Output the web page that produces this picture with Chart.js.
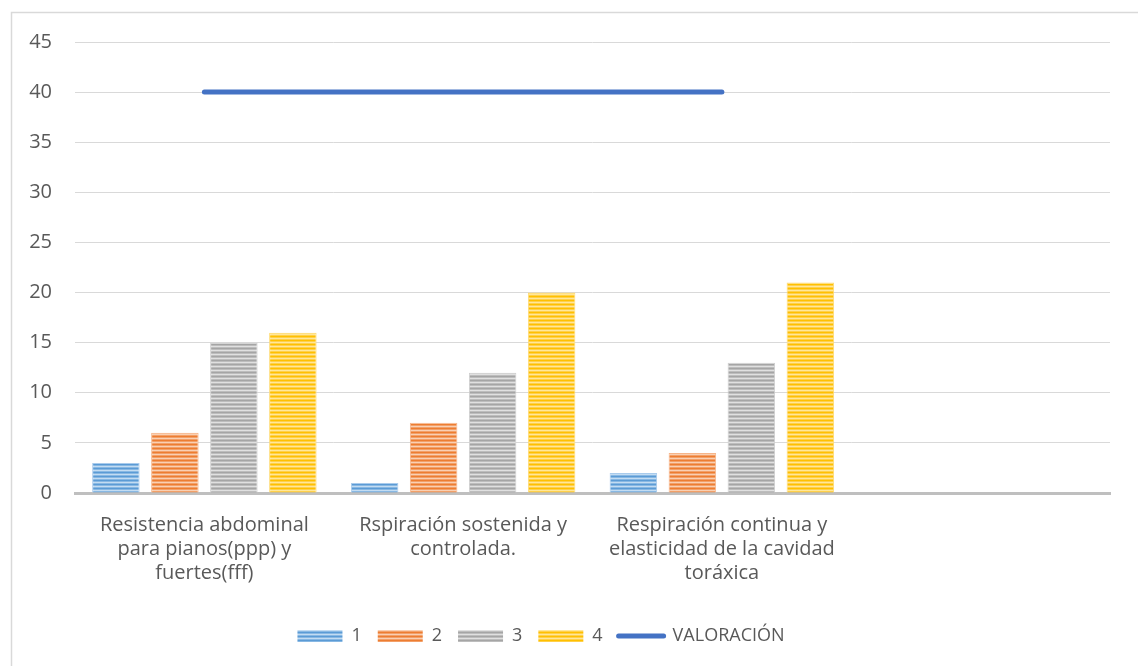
<!DOCTYPE html>
<html>
<head>
<meta charset="utf-8">
<script src="https://cdn.jsdelivr.net/npm/chart.js@4.4.1/dist/chart.umd.min.js"></script>
<style>
  html,body{margin:0;padding:0;background:#fff;}
  #wrap{width:1138px;height:666px;position:relative;}
</style>
</head>
<body>
<div id="wrap"><canvas id="c" width="1138" height="666"></canvas></div>
<script>
const categories = [
  ["Resistencia abdominal", "para pianos(ppp) y", "fuertes(fff)"],
  ["Rspiración sostenida y", "controlada."],
  ["Respiración continua y", "elasticidad de la cavidad", "toráxica"],
  [""]
];
const series1 = [3, 1, 2, null];
const series2 = [6, 7, 4, null];
const series3 = [15, 12, 13, null];
const series4 = [16, 20, 21, null];
const valoracion = [40, 40, 40, null];
const seriesNames = ["1", "2", "3", "4", "VALORACIÓN"];
const yTicks = [0, 5, 10, 15, 20, 25, 30, 35, 40, 45];

function stripe(base, mid, light) {
  const c = document.createElement('canvas');
  c.width = 4; c.height = 4;
  const x = c.getContext('2d');
  x.fillStyle = base; x.fillRect(0, 0, 4, 4);
  x.fillStyle = mid; x.fillRect(0, 1, 4, 1);
  x.fillStyle = light; x.fillRect(0, 2, 4, 1);
  x.fillStyle = mid; x.fillRect(0, 3, 4, 1);
  return x.createPattern(c, 'repeat');
}
const ctx = document.getElementById('c').getContext('2d');
const pBlue = stripe('#5b9bd5', '#88b8e3', '#c3dcf2');
const pOrange = stripe('#ed7d31', '#f2a069', '#f9d0b3');
const pGray = stripe('#a5a5a5', '#bdbdbd', '#e0e0e0');
const pYellow = stripe('#ffc000', '#ffd04a', '#ffe79a');

const FONT = "'Open Sans', sans-serif";

const frame = {
  id: 'frame',
  afterLayout(chart) {
    if (chart.legend) { chart.legend.left -= 14; chart.legend.right -= 14; }
  },
  beforeDraw(chart) {
    const c = chart.ctx;
    c.save();
    c.strokeStyle = '#d9d9d9';
    c.lineWidth = 1.5;
    c.beginPath();
    c.moveTo(11.5, 666);
    c.lineTo(11.5, 12.5);
    c.lineTo(1138, 12.5);
    c.stroke();
    c.restore();
  }
};

const barBase = {type: 'bar', order: 2, borderWidth: {left: 1, right: 1, top: 1}, borderSkipped: 'bottom'};

new Chart(ctx, {
  data: {
    labels: categories,
    datasets: [
      Object.assign({}, barBase, {label: seriesNames[0], data: series1, backgroundColor: pBlue, borderColor: '#a9cbec'}),
      Object.assign({}, barBase, {label: seriesNames[1], data: series2, backgroundColor: pOrange, borderColor: '#f6b58a'}),
      Object.assign({}, barBase, {label: seriesNames[2], data: series3, backgroundColor: pGray, borderColor: '#cfcfcf'}),
      Object.assign({}, barBase, {label: seriesNames[3], data: series4, backgroundColor: pYellow, borderColor: '#ffdb73'}),
      {type: 'line', label: seriesNames[4], data: valoracion, borderColor: '#4472c4', backgroundColor: '#4472c4',
       borderWidth: 5, pointRadius: 0, borderCapStyle: 'round', spanGaps: false, order: 1}
    ]
  },
  options: {
    responsive: false,
    animation: false,
    layout: {padding: {top: 42, right: 28, left: 0, bottom: 11}},
    datasets: {bar: {categoryPercentage: 0.912, barPercentage: 0.805}},
    scales: {
      x: {
        grid: {display: false, drawTicks: false},
        border: {display: true, color: '#bfbfbf', width: 3},
        ticks: {color: '#595959', font: {family: FONT, size: 20, lineHeight: 1.2}, padding: 20, maxRotation: 0, autoSkip: false},
        afterFit(s) { s.height = 118; }
      },
      y: {
        min: 0, max: 45,
        afterBuildTicks(s) { s.ticks = yTicks.map(v => ({value: v})); },
        grid: {color: '#d9d9d9', lineWidth: 1, drawTicks: false},
        border: {display: false},
        ticks: {color: '#595959', font: {family: FONT, size: 20}, padding: 23},
        afterFit(s) { s.width = 75; }
      }
    },
    plugins: {
      tooltip: {enabled: false},
      legend: {
        position: 'bottom',
        labels: {
          color: '#595959',
          font: {family: FONT, size: 18},
          usePointStyle: true,
          pointStyleWidth: 45,
          boxHeight: 12,
          padding: 16,
          generateLabels(chart) {
            return chart.data.datasets.map((d, i) => ({
              text: d.label,
              fillStyle: d.backgroundColor,
              strokeStyle: d.type === 'line' ? d.borderColor : 'rgba(0,0,0,0)',
              lineWidth: d.type === 'line' ? 5 : 0,
              lineCap: 'round',
              pointStyle: d.type === 'line' ? 'line' : 'rect',
              fontColor: '#595959',
              hidden: false,
              datasetIndex: i
            }));
          }
        }
      }
    }
  },
  plugins: [frame]
});
</script>
</body>
</html>
